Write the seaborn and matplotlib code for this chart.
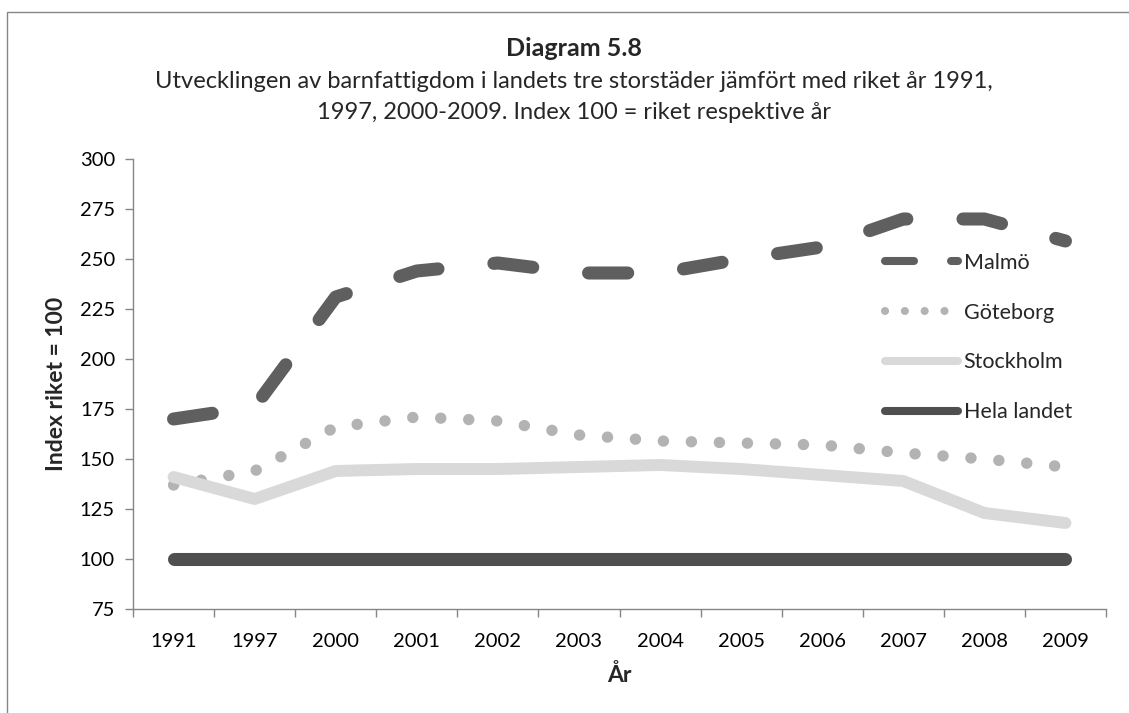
import numpy as np
import pandas as pd
import matplotlib.pyplot as plt
import matplotlib.patches as mpatches
from matplotlib.ticker import FixedLocator, NullFormatter
import seaborn as sns

# data
years = ['1991', '1997', '2000', '2001', '2002', '2003', '2004',
         '2005', '2006', '2007', '2008', '2009']
malmo = [170, 176, 231, 244, 248, 243, 243, 250, 256, 270, 270, 259]
goteborg = [137, 144, 166, 171, 169, 162, 159, 158, 157, 153, 150, 146]
stockholm = [141, 130, 144, 145, 145, 146, 147, 145, 142, 139, 123, 118]
hela_landet = [100] * 12

series_names = ['Malmö', 'Göteborg', 'Stockholm', 'Hela landet']
series_values = [malmo, goteborg, stockholm, hela_landet]

pos = np.arange(len(years))
df = pd.concat(
    [pd.DataFrame({'pos': pos, 'year': years, 'value': v, 'serie': n})
     for n, v in zip(series_names, series_values)],
    ignore_index=True,
)

sns.set_theme(style='white')
plt.rcParams['font.family'] = ['Lato', 'DejaVu Sans']

W, H = 1129, 713
fig = plt.figure(figsize=(W / 100, H / 100), dpi=100)
ax = fig.add_axes([133 / W, 1 - 609 / H, (1106 - 133) / W, (609 - 159) / H])

# stil per serie: farg, linjebredd (pt), linjestil
styles = {
    'Malmö': ('#5f5f5f', 9.4, (0, (3.0, 4.3))),
    'Göteborg': ('#b3b3b3', 8.2, (0, (0.01, 2.45))),
    'Stockholm': ('#d9d9d9', 8.6, '-'),
    'Hela landet': ('#4f4f4f', 9.4, '-'),
}

for name in series_names:
    color, lw, ls = styles[name]
    sns.lineplot(data=df[df['serie'] == name], x='pos', y='value', ax=ax,
                 color=color, linewidth=lw, linestyle=ls, label=name,
                 dash_capstyle='round', solid_capstyle='round',
                 solid_joinstyle='round', dash_joinstyle='round')

ax.set_xlim(-0.5, len(years) - 0.5)
ax.set_ylim(75, 300)
ax.set_yticks(np.arange(75, 301, 25))

# kategoriaxel: streck mellan kategorierna, etiketter i mitten
ax.xaxis.set_major_locator(FixedLocator(np.arange(-0.5, len(years), 1.0)))
ax.xaxis.set_major_formatter(NullFormatter())
ax.xaxis.set_minor_locator(FixedLocator(pos))
ax.set_xticklabels(years, minor=True)
ax.tick_params(axis='x', which='major', length=6, width=1, color='#868686',
               direction='out', bottom=True)
ax.tick_params(axis='x', which='minor', length=0, pad=17, labelsize=14.5,
               labelcolor='black', bottom=True)
ax.tick_params(axis='y', length=6, width=1, color='#868686', direction='out',
               left=True, pad=7, labelsize=14.5, labelcolor='black')

for side in ['top', 'right']:
    ax.spines[side].set_visible(False)
for side in ['left', 'bottom']:
    ax.spines[side].set_color('#868686')
    ax.spines[side].set_linewidth(1)

ax.set_xlabel('År', fontsize=16.5, fontweight='bold', labelpad=10)
ax.set_ylabel('Index riket = 100', fontsize=16.5, fontweight='bold',
              labelpad=9)

leg = ax.legend(loc='upper left', bbox_to_anchor=(885 / W, 1 - 253 / H),
                bbox_transform=fig.transFigure, frameon=False,
                fontsize=15.5, handlelength=3.4, handletextpad=0.25,
                labelspacing=1.38, borderpad=0, borderaxespad=0)
for line in leg.get_lines():
    line.set_linewidth(5.8)
leg.get_lines()[0].set_linestyle((0, (3.6, 4.6)))

cx = 574 / W
fig.text(cx, 1 - 56 / H, 'Diagram 5.8', ha='center', va='baseline',
         fontsize=18, fontweight='bold')
fig.text(cx, 1 - 88 / H,
         'Utvecklingen av barnfattigdom i landets tre storstäder jämfört med riket år 1991,',
         ha='center', va='baseline', fontsize=17)
fig.text(cx, 1 - 119 / H,
         '1997, 2000-2009. Index 100 = riket respektive år',
         ha='center', va='baseline', fontsize=17)

# diagramramen, bara vanster- och overkant syns i bilden
frame = mpatches.Rectangle((7 / W, -0.1), 2, 1 - 12 / H + 0.1,
                           transform=fig.transFigure, fill=False,
                           edgecolor='#868686', linewidth=1, clip_on=False)
fig.patches.append(frame)

fig.savefig('out.png', dpi=100)
